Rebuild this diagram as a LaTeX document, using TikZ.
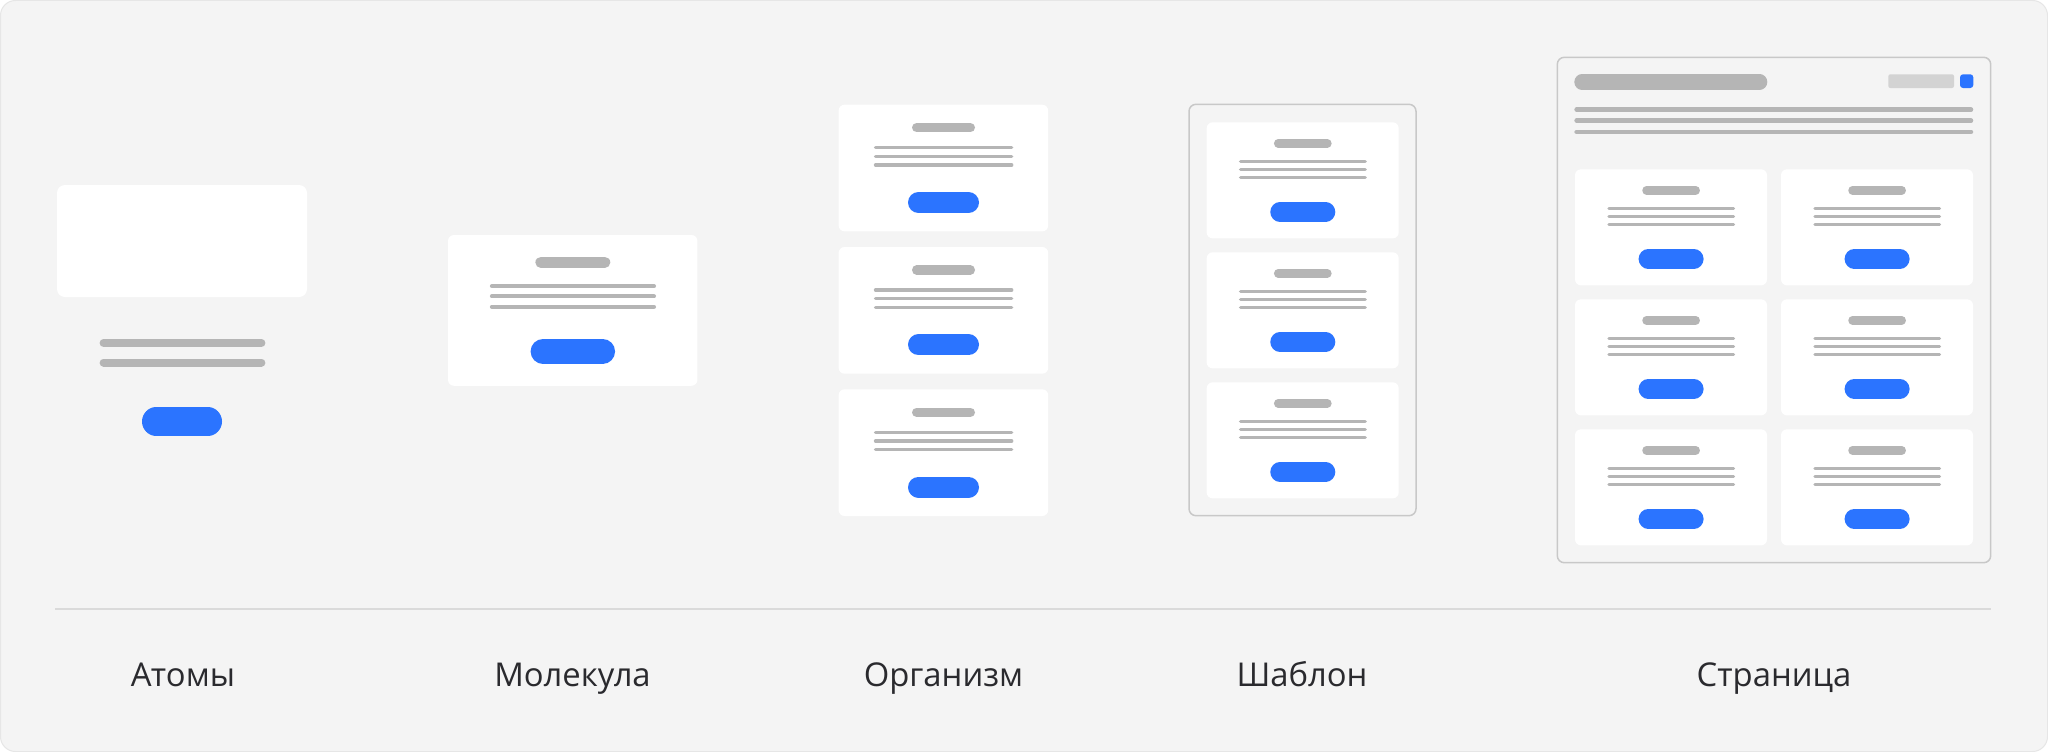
\documentclass[tikz,border=0pt]{standalone}
\usepackage{fontspec}
\setmainfont{Open Sans}
\usepackage{tikz}
\definecolor{bggray}{HTML}{F4F4F4}
\definecolor{edgegray}{HTML}{E6E6E6}
\definecolor{bargray}{HTML}{B5B5B5}
\definecolor{boxgray}{HTML}{D3D3D3}
\definecolor{framegray}{HTML}{C8C8C8}
\definecolor{rulegray}{HTML}{DADADA}
\definecolor{btnblue}{HTML}{2B74FF}
\definecolor{ink}{HTML}{2A2A2E}

\tikzset{
  card/.style={fill=white,rounded corners=6pt},
  frame/.style={draw=framegray,line width=1.5pt,fill=bggray,rounded corners=7pt},
  bar/.style={draw=bargray,line cap=round},
  btn/.style={draw=btnblue,line cap=round},
  stage/.style={text=ink,font=\fontsize{32.8}{40}\selectfont,anchor=base}
}

% one small card at (#1,#2), size factor #3
\newcommand{\uicard}[3]{%
  \fill[card] (#1,#2) rectangle ({#1+209.6*#3},{#2+126.7*#3});
  \draw[bar,line width=9.3*#3pt] ({#1+78.05*#3},{#2+23*#3}) -- ({#1+131.75*#3},{#2+23*#3});
  \foreach \ly in {43,51.6,60.3}
    \draw[bar,line width=3.5*#3pt] ({#1+36.95*#3},{#2+\ly*#3}) -- ({#1+173.05*#3},{#2+\ly*#3});
  \draw[btn,line width=21*#3pt] ({#1+79.9*#3},{#2+97.8*#3}) -- ({#1+129.9*#3},{#2+97.8*#3});
}

\begin{document}
\begin{tikzpicture}[x=1pt,y=-1pt,line join=round]
\useasboundingbox (0,0) rectangle (2048,752);
\fill[white] (0,0) rectangle (2048,752);
\draw[fill=bggray,draw=edgegray,line width=1pt,rounded corners=15pt] (0.5,0.5) rectangle (2047.5,751.5);
% atoms
\fill[card,rounded corners=8pt] (57,185) rectangle (307,297);
\draw[bar,line width=8pt] (103.6,343) -- (261.4,343);
\draw[bar,line width=8pt] (103.6,362.5) -- (261.4,362.5);
\draw[btn,line width=28.4pt] (156.2,421.5) -- (207.8,421.5);
% molecule
\uicard{448}{235}{1.19}
% organism
\foreach \cy in {104.7,247,389.3} {\uicard{838.6}{\cy}{1}}
% template
\draw[frame] (1189,104.3) rectangle (1416,515.7);
\foreach \cy in {122.3,252.3,382.3} {\uicard{1206.7}{\cy}{0.916}}
% page
\draw[frame] (1557.3,57.3) rectangle (1990.7,562.7);
\draw[bar,line width=15.4pt] (1582,82) -- (1759.6,82);
\fill[boxgray,rounded corners=2pt] (1888.3,74.3) rectangle (1954,88);
\fill[btnblue,rounded corners=3pt] (1960,74.3) rectangle (1973.3,88);
\foreach \ly in {109.7,120.7,131.8}
  \draw[bar,line width=4.5pt] (1576.6,\ly) -- (1971,\ly);
\foreach \cx in {1575,1781}
  \foreach \cy in {169.3,299.3,429.3} {\uicard{\cx}{\cy}{0.916}}
% separator and stage names
\draw[rulegray,line width=2pt] (55,609) -- (1991,609);
\node[stage] (atoms) at (183,686.7) {Атомы};
\node[stage] (molecule) at (572.5,686.7) {Молекула};
\node[stage] (organism) at (943.5,686.7) {Организм};
\node[stage] (template) at (1302,686.7) {Шаблон};
\node[stage] (page) at (1774,686.7) {Страница};
\end{tikzpicture}
\end{document}
